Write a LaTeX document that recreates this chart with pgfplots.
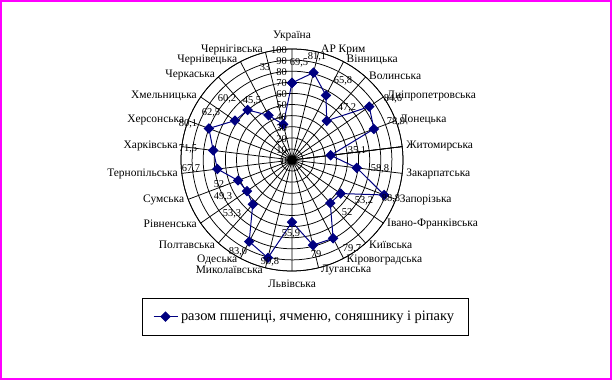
\documentclass[border=0pt]{standalone}
\usepackage{fontspec}
\setmainfont{Liberation Serif}
\usepackage{pgfplots}
\usepackage{pgfplotstable}
\pgfplotsset{compat=1.18}
\usepgfplotslibrary{polar}
\definecolor{exnavy}{RGB}{0,0,128}
\definecolor{exmag}{RGB}{255,0,255}

% angle (degrees, counter-clockwise from east), value
\pgfplotstableread{
ang r
90 69.5
76.154 81.1
62.308 65.8
48.462 47.2
34.615 84.6
20.769 78.9
6.923 35.1
353.077 58.8
339.231 88.8
325.385 53.2
311.538 52
297.692 79.7
283.846 79
270 55.9
256.154 90.8
242.308 83.0
228.462 53.3
214.615 49.3
200.769 52
186.923 67.7
173.077 71.5
159.231 80.1
145.385 62.5
131.538 60.2
117.692 45.5
103.846 33
90 69.5
}\datatable

\begin{document}
\begin{tikzpicture}
\path[use as bounding box] (-292bp,-220bp) rectangle (320bp,160bp);
\begin{polaraxis}[
  at={(0,0)}, anchor=center,
  width=222bp, height=222bp, scale only axis,
  xmin=6.923, xmax=366.923, ymin=0, ymax=100,
  xtick={6.923,20.769,34.615,48.462,62.308,76.154,90,103.846,117.692,131.538,145.385,159.231,173.077,186.923,200.769,214.615,228.462,242.308,256.154,270,283.846,297.692,311.538,325.385,339.231,353.077},
  ytick={10,20,...,100},
  xticklabels={}, yticklabels={},
  major tick length=0pt,
  grid=major,
  major grid style={black, line width=0.75bp},
  axis line style={black, line width=0.75bp},
  clip=false,
  legend style={at={(-0.1395,-0.0856)}, anchor=north west, draw=black, line width=0.8bp,
    font=\fontsize{14.5}{16}\selectfont, inner xsep=11bp, inner ysep=10bp, nodes={inner sep=3bp}},
  legend image code/.code={\draw[mark repeat=2, mark phase=2, #1] plot coordinates {(0bp,0bp) (12bp,0bp) (24bp,0bp)};},
]
\addplot[exnavy, line width=1bp, mark=square*, mark size=3.2bp, mark options={rotate=45, fill=exnavy, draw=exnavy, solid}] table[x=ang, y=r] {\datatable};
\addlegendentry{разом пшениці, ячменю, соняшнику і ріпаку}
\end{polaraxis}

% category labels
\begin{scope}[every node/.style={font=\fontsize{11.5}{13}\selectfont, inner sep=2bp}]
\node[anchor=south] at (90:117bp) {Україна};
\node[anchor=west] at (76.154:113bp) {АР Крим};
\node[anchor=west] at (62.308:113bp) {Вінницька};
\node[anchor=west] at (48.462:113bp) {Волинська};
\node[anchor=west] at (34.615:113bp) {Дніпропетровська};
\node[anchor=west] at (20.769:113bp) {Донецька};
\node[anchor=west] at (6.923:113bp) {Житомирська};
\node[anchor=west] at (-6.923:113bp) {Закарпатська};
\node[anchor=west] at (-20.769:113bp) {Запорізька};
\node[anchor=west] at (-34.615:113bp) {Івано-Франківська};
\node[anchor=west] at (-48.462:113bp) {Київська};
\node[anchor=west] at (-62.308:113bp) {Кіровоградська};
\node[anchor=west] at (-76.154:113bp) {Луганська};
\node[anchor=north] at (270:118bp) {Львівська};
\node[anchor=east] at (256.154:113bp) {Миколаївська};
\node[anchor=east] at (242.308:113bp) {Одеська};
\node[anchor=east] at (228.462:113bp) {Полтавська};
\node[anchor=east] at (214.615:113bp) {Рівненська};
\node[anchor=east] at (200.769:113bp) {Сумська};
\node[anchor=east] at (186.923:113bp) {Тернопільська};
\node[anchor=east] at (173.077:113bp) {Харківська};
\node[anchor=east] at (159.231:113bp) {Херсонська};
\node[anchor=east] at (145.385:113bp) {Хмельницька};
\node[anchor=east] at (131.538:113bp) {Черкаська};
\node[anchor=east] at (117.692:113bp) {Чернівецька};
\node[anchor=east] at (103.846:113bp) {Чернігівська};
\end{scope}

% value axis labels
\begin{scope}[every node/.style={font=\fontsize{10.5}{12}\selectfont, inner sep=0bp, anchor=east}]
\node at (-5bp,-1bp) {0};
\node at (-5bp,10.1bp) {10};
\node at (-5bp,21.2bp) {20};
\node at (-5bp,32.3bp) {30};
\node at (-5bp,43.4bp) {40};
\node at (-5bp,54.5bp) {50};
\node at (-5bp,65.6bp) {60};
\node at (-5bp,76.7bp) {70};
\node at (-5bp,87.8bp) {80};
\node at (-5bp,98.9bp) {90};
\node at (-5bp,110bp) {100};
\end{scope}

% data labels
\begin{scope}[every node/.style={font=\fontsize{10.5}{12}\selectfont, inner sep=0bp}]
\node at (7bp,97bp) {69,5};
\node at (25bp,103bp) {81,1};
\node at (51bp,79bp) {65,8};
\node at (55bp,52bp) {47,2};
\node at (101bp,61bp) {84,6};
\node at (104bp,38bp) {78,9};
\node at (65bp,9bp) {35,1};
\node at (88bp,-9bp) {58,8};
\node at (99bp,-39bp) {88,8};
\node at (72bp,-41bp) {53,2};
\node at (55bp,-52bp) {52};
\node at (60bp,-89bp) {79,7};
\node at (24bp,-94bp) {79};
\node at (-1bp,-74bp) {55,9};
\node at (-22bp,-102bp) {90,8};
\node at (-54bp,-92bp) {83,0};
\node at (-60bp,-54bp) {53,3};
\node at (-69bp,-37bp) {49,3};
\node at (-73bp,-24bp) {52};
\node at (-101bp,-9bp) {67,7};
\node at (-104bp,11bp) {71,5};
\node at (-104bp,36bp) {80,1};
\node at (-81bp,47bp) {62,5};
\node at (-65bp,61bp) {60,2};
\node at (-40bp,59bp) {45,5};
\node at (-27bp,93bp) {33};
\end{scope}

\draw[exmag, line width=2.5bp] (-290.75bp,-218.75bp) rectangle (318.75bp,158.75bp);
\end{tikzpicture}
\end{document}
